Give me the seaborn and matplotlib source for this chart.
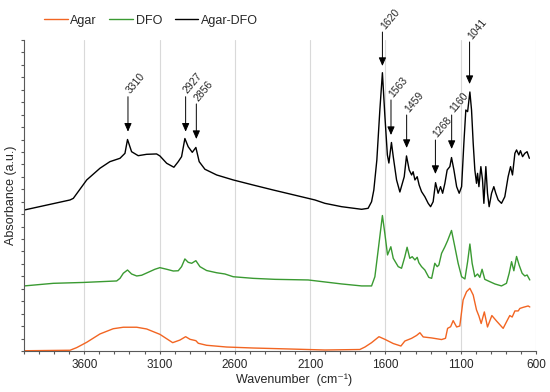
import numpy as np
import pandas as pd
import matplotlib
matplotlib.use("Agg")
import matplotlib.pyplot as plt
import seaborn as sns

# FTIR spectra (offset stacked, arbitrary units)
agar_wn = [4000, 3695, 3651, 3584, 3496, 3408, 3341, 3252, 3186, 3098, 3013, 2965, 2927, 2898, 2859,
           2843, 2788, 2655, 2478, 2234, 2002, 1770, 1736, 1692, 1643, 1604, 1548, 1497, 1471, 1426,
           1393, 1371, 1349, 1293, 1227, 1201, 1187, 1167, 1150, 1127, 1106, 1084, 1061, 1039, 1017,
           995, 979, 964, 943, 922, 893, 862, 818, 793, 774, 758, 740, 718, 707, 685, 652, 641]
agar_abs = [0.02, 0.06, 0.27, 0.70, 1.37, 1.79, 1.91, 1.91, 1.77, 1.34, 0.67, 0.88, 1.15, 0.94, 0.83,
            0.62, 0.46, 0.32, 0.24, 0.16, 0.08, 0.12, 0.32, 0.67, 1.15, 0.94, 0.60, 0.40, 0.80, 1.02,
            1.25, 1.47, 1.13, 1.05, 0.92, 1.02, 1.82, 1.95, 2.44, 1.93, 2.01, 4.10, 4.77, 5.04, 4.50,
            3.30, 2.81, 2.21, 3.14, 1.93, 2.85, 2.41, 1.82, 2.41, 2.85, 2.73, 3.22, 3.22, 3.42, 3.51, 3.62, 3.54]

dfo_wn = [4000, 3806, 3607, 3385, 3363, 3341, 3313, 3286, 3252, 3219, 3175, 3131, 3098, 3053, 3009,
          2976, 2954, 2932, 2910, 2887, 2859, 2832, 2788, 2721, 2666, 2611, 2478, 2334, 2113, 1891,
          1758, 1692, 1670, 1648, 1620, 1604, 1586, 1564, 1548, 1515, 1493, 1471, 1456, 1438, 1422,
          1404, 1389, 1378, 1360, 1338, 1312, 1293, 1272, 1256, 1245, 1227, 1205, 1187, 1161, 1139,
          1117, 1094, 1072, 1054, 1039, 1024, 1006, 988, 973, 958, 940, 906, 873, 829, 796, 778,
          762, 747, 729, 712, 692, 674, 659, 641]
dfo_abs = [5.23, 5.44, 5.51, 5.63, 5.84, 6.25, 6.51, 6.19, 6.03, 6.09, 6.33, 6.57, 6.70, 6.57, 6.43,
           6.45, 6.78, 7.40, 7.13, 7.05, 7.26, 6.78, 6.47, 6.29, 6.19, 5.97, 5.84, 5.76, 5.71, 5.39,
           5.23, 5.23, 5.97, 8.12, 10.89, 9.46, 7.72, 8.38, 7.45, 6.78, 6.65, 7.58, 8.34, 7.45, 7.58,
           7.32, 7.53, 7.10, 6.78, 6.51, 5.92, 5.84, 7.05, 6.78, 6.91, 7.85, 8.38, 8.87, 9.69, 8.38,
           7.05, 5.97, 5.79, 7.18, 8.60, 7.05, 5.97, 6.19, 5.92, 6.57, 5.76, 5.57, 5.39, 5.23, 5.44, 6.25,
           7.18, 6.45, 7.60, 6.91, 6.25, 6.03, 6.11, 5.71]

agar_dfo_wn = [4000, 3695, 3673, 3584, 3496, 3430, 3363, 3330, 3313, 3286, 3242, 3186, 3120, 3098, 3053,
               3005, 2976, 2954, 2932, 2910, 2883, 2859, 2837, 2799, 2721, 2611, 2478, 2345, 2234, 2068,
               2002, 1891, 1758, 1715, 1692, 1677, 1657, 1637, 1620, 1604, 1587, 1577, 1560, 1548, 1526,
               1504, 1475, 1460, 1442, 1426, 1416, 1404, 1389, 1376, 1360, 1338, 1316, 1300, 1283, 1267,
               1250, 1234, 1220, 1205, 1190, 1172, 1161, 1145, 1127, 1110, 1094, 1079, 1066, 1054, 1039,
               1028, 1017, 1006, 995, 988, 979, 966, 955, 946, 933, 922, 911, 895, 880, 867,
               851, 829, 807, 785, 769, 756, 740, 729, 714, 703, 689, 674, 659, 644]
agar_dfo_abs = [11.33, 12.14, 12.27, 13.75, 14.69, 15.22, 15.49, 15.89, 17.0, 16.02, 15.70, 15.81, 15.84, 15.68, 15.09,
                14.77, 15.22, 15.62, 17.08, 16.42, 15.97, 16.36, 15.22, 14.61, 14.15, 13.75, 13.34, 12.94, 12.62, 12.14,
                11.87, 11.60, 11.39, 11.47, 12.0, 12.94, 15.35, 19.37, 22.37, 18.97, 15.76, 15.11, 16.76, 15.62, 13.75,
                12.78, 14.01, 15.68, 14.55, 14.15, 14.41, 13.75, 14.01, 13.34, 12.81, 12.40, 11.87, 11.60, 12.0, 13.53,
                12.68, 13.21, 12.68, 13.48, 14.55, 14.82, 15.55, 14.55, 13.21, 12.68, 13.21, 16.70, 19.37, 19.24, 20.82,
                19.37, 16.70, 14.55, 13.48, 14.28, 13.21, 14.82, 13.75, 11.87, 14.82, 12.68, 11.60, 12.68, 13.21, 12.68,
                12.14, 11.87, 12.40, 14.01, 14.82, 14.15, 15.89, 16.16, 15.76, 16.10, 15.62, 15.89, 16.02, 15.49]

samples = ["Agar", "DFO", "Agar-DFO"]
colors = {"Agar": "#f26522", "DFO": "#3a9a32", "Agar-DFO": "#000000"}

# labelled bands on the Agar-DFO trace
peaks = [3310, 2927, 2856, 1620, 1563, 1459, 1268, 1160, 1041]

sns.set_style("ticks")
plt.rcParams['font.family'] = ['Liberation Sans', 'DejaVu Sans']

df = pd.concat([
    pd.DataFrame({'wn': agar_wn, 'abs': agar_abs, 'sample': 'Agar'}),
    pd.DataFrame({'wn': dfo_wn, 'abs': dfo_abs, 'sample': 'DFO'}),
    pd.DataFrame({'wn': agar_dfo_wn, 'abs': agar_dfo_abs, 'sample': 'Agar-DFO'}),
], ignore_index=True)

fig = plt.figure(figsize=(5.5, 3.92), dpi=100)
ax = fig.add_axes([0.0438, 0.1046, 0.9307, 0.7934])

sns.lineplot(data=df, x='wn', y='abs', hue='sample', hue_order=samples, palette=colors,
             estimator=None, lw=1.0, ax=ax)

ax.set_xlim(4000, 600)
ax.set_ylim(0, 25)
ax.set_xticks(range(3600, 599, -500))
ax.set_xticks(range(4000, 599, -100), minor=True)
ax.set_yticks(np.arange(0, 26, 1))
ax.set_yticklabels([])
ax.grid(axis='x', which='major', color='#d9d9d9', lw=0.8)
ax.set_axisbelow(True)

for s in ['top', 'right']:
    ax.spines[s].set_visible(False)
for s in ['left', 'bottom']:
    ax.spines[s].set_color('#595959')
    ax.spines[s].set_linewidth(0.8)
ax.tick_params(axis='x', which='both', direction='out', length=2.5, width=0.8,
               color='#595959', labelsize=8.5, pad=3.5, bottom=True)
ax.tick_params(axis='y', which='both', direction='out', length=2.2, width=0.8,
               color='#595959', left=True)

ax.set_xlabel('Wavenumber  (cm⁻¹)', fontsize=9)
ax.set_ylabel('Absorbance (a.u.)', fontsize=9)
ax.xaxis.set_label_coords(0.527, -0.072)
ax.yaxis.set_label_coords(-0.014, 0.5)

# arrow tail / head heights for each label
arrow_tail = [20.44, 20.44, 19.86, 25.64, 20.18, 18.97, 16.96, 18.97, 24.84]
arrow_tip = [17.63, 17.63, 17.04, 22.91, 17.36, 16.32, 14.23, 16.24, 21.46]
for p, yt, yh in zip(peaks, arrow_tail, arrow_tip):
    ax.annotate('', xy=(p, yh), xytext=(p, yt),
                arrowprops=dict(arrowstyle='-|>,head_length=0.5,head_width=0.22', color='black',
                                lw=0.7, shrinkA=0, shrinkB=0, mutation_scale=10),
                annotation_clip=False)
    ax.annotate(str(p), xy=(p, yt), xytext=(0, 3), textcoords='offset points', rotation=50,
                rotation_mode='anchor', ha='left', va='center', fontsize=7.5, annotation_clip=False)

handles, labels = ax.get_legend_handles_labels()
ax.get_legend().remove()
fig.legend(handles, labels, loc='center left', bbox_to_anchor=(0.08, 0.947), ncol=3, frameon=False,
           fontsize=9, handlelength=1.9, handletextpad=0.2, columnspacing=1.0,
           borderaxespad=0, borderpad=0)

fig.savefig('out.png', dpi=100)
